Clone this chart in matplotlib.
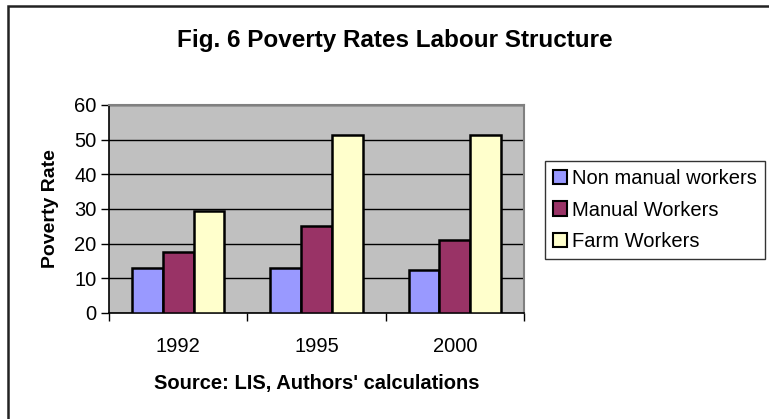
import matplotlib.pyplot as plt
import matplotlib.patches as mpatches
import numpy as np

plt.rcParams['font.family'] = ['Liberation Sans', 'DejaVu Sans']

years = ['1992', '1995', '2000']
series = ['Non manual workers', 'Manual Workers', 'Farm Workers']
non_manual = [13.0, 13.1, 12.5]
manual = [17.7, 25.1, 21.0]
farm = [29.5, 51.3, 51.3]
colors = ['#9999FF', '#993366', '#FFFFCC']

W, H = 769, 419
fig = plt.figure(figsize=(W / 100, H / 100), dpi=100)
ax = fig.add_axes([109 / W, 1 - 313 / H, (524 - 109) / W, (313 - 105) / H])
ax.set_facecolor('#C0C0C0')

x = np.arange(len(years))
bw = 0.222
for i, (vals, c, name) in enumerate(zip([non_manual, manual, farm], colors, series)):
	ax.bar(x + (i - 1) * bw, vals, bw, color=c, edgecolor='black', linewidth=1.8,
		label=name, zorder=3)

ax.set_xlim(-0.5, 2.5)
ax.set_ylim(0, 60)
ax.set_yticks(range(0, 61, 10))
ax.yaxis.grid(True, color='black', linewidth=1.0, zorder=1)
ax.set_axisbelow(True)
ax.set_xticks(x)
ax.set_xticklabels(years)
ax.set_xticks([-0.5, 0.5, 1.5, 2.5], minor=True)
ax.tick_params(axis='x', which='major', length=0, pad=17, labelsize=14.5)
ax.tick_params(axis='x', which='minor', length=6, width=1, direction='out')
ax.tick_params(axis='y', length=6, width=1, direction='out', labelsize=14.5, pad=3)

for s in ['top', 'right']:
	ax.spines[s].set_color('#808080')
	ax.spines[s].set_linewidth(1.5)
for s in ['left', 'bottom']:
	ax.spines[s].set_color('black')
	ax.spines[s].set_linewidth(1.2)

ax.set_ylabel('Poverty Rate', fontsize=14, fontweight='bold', labelpad=11)
ax.set_xlabel("Source: LIS, Authors' calculations", fontsize=14.5, fontweight='bold', labelpad=13)
fig.text(395 / W, 1 - 40 / H, 'Fig. 6 Poverty Rates Labour Structure', fontsize=17.5,
	fontweight='bold', ha='center', va='center')

leg = fig.legend(loc='upper left', bbox_to_anchor=(545 / W, 1 - 161 / H), fontsize=14.5,
	frameon=True, fancybox=False, handlelength=0.7, handleheight=0.7,
	handletextpad=0.25, borderpad=0.4, labelspacing=0.62, borderaxespad=0)
leg.get_frame().set_edgecolor('black')
leg.get_frame().set_linewidth(1.0)
for h in leg.legend_handles:
	h.set_linewidth(1.5)

fig.patches.append(mpatches.Rectangle((8 / W, -0.05), 1.1, 1 - 6 / H + 0.05,
	transform=fig.transFigure, fill=False, edgecolor='#222222', linewidth=1.8))

fig.savefig('out.png', dpi=100)
